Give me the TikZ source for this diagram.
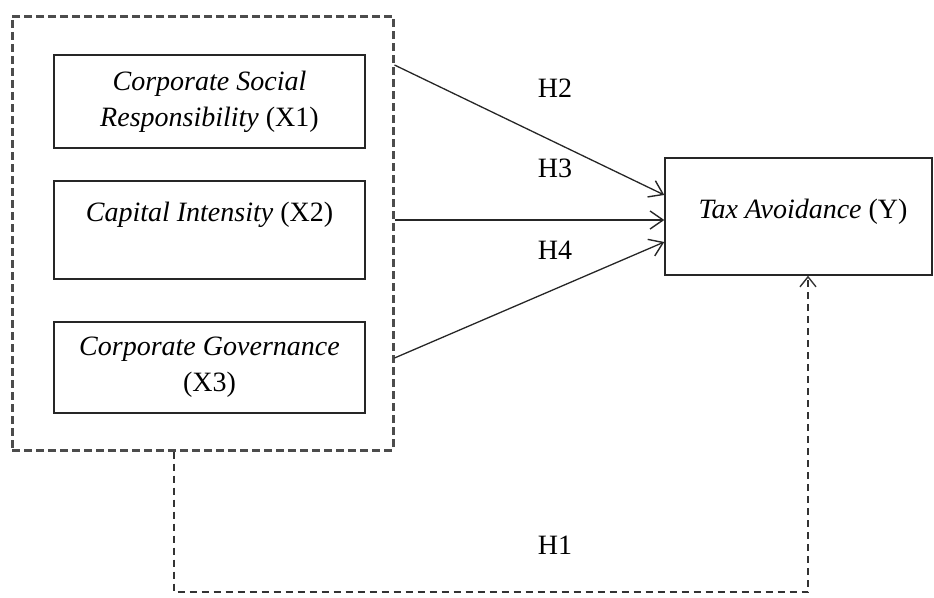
\documentclass[tikz,border=0pt]{standalone}
\usepackage{fontspec}
\setmainfont{Liberation Serif}
\usetikzlibrary{arrows.meta}
\begin{document}
\begin{tikzpicture}[x=1pt,y=-1pt,
  txt/.style={font=\fontsize{28}{36}\selectfont, align=center},
  varbox/.style={draw=black!85, line width=1.4pt, inner sep=0pt, txt},
  groupbox/.style={draw=black!70, line width=3pt, dash pattern=on 8pt off 4pt, inner sep=0pt},
  arr/.style={draw=black!85, line width=1.3pt, -{Straight Barb[length=13pt,width=18pt,line width=1.4pt]}},
  dline/.style={draw=black!80, line width=1.3pt, dash pattern=on 7pt off 5pt, -{Straight Barb[length=10pt,width=16pt,line width=1.4pt,line cap=butt]}},
  hlab/.style={txt}
]
\useasboundingbox (0,0) rectangle (934,597);
\node[groupbox, minimum width=381pt, minimum height=434pt] (grp) at (202.5,233) {};
\node[varbox, minimum width=311pt, minimum height=93pt] (x1) at (209.5,101.5)
  {\textit{Corporate Social}\\\textit{Responsibility} (X1)};
\node[varbox, minimum width=311pt, minimum height=98pt] (x2) at (209.5,230)
  {\textit{Capital Intensity} (X2)\\\mbox{}};
\node[varbox, minimum width=311pt, minimum height=91pt] (x3) at (209.5,367.5)
  {\textit{Corporate Governance}\\(X3)};
\node[varbox, minimum width=267pt, minimum height=117pt] (y) at (798.5,216.5) {};
\node[txt] (ytxt) at (803,212) {\textit{Tax Avoidance} (Y)};
\draw[arr] (grp.east |- 0,65) -- (y.west |- 0,195);
\draw[arr] (grp.east |- 0,220) -- (y.west |- 0,220);
\draw[arr] (grp.east |- 0,358) -- (y.west |- 0,242);
\draw[dline] (grp.south -| 174,0) -- (174,592) -| (y.south -| 808,0);
\node[hlab] (h2) at (555,88) {H2};
\node[hlab] (h3) at (555,168) {H3};
\node[hlab] (h4) at (555,250) {H4};
\node[hlab] (h1) at (555,545) {H1};
\end{tikzpicture}
\end{document}
